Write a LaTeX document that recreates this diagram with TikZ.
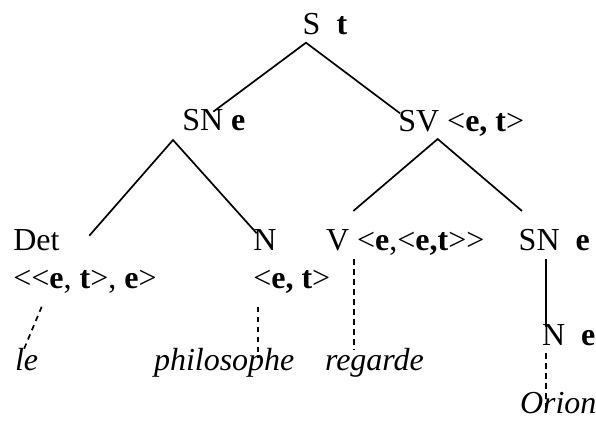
\documentclass[tikz,border=0pt]{standalone}
\usepackage{fontspec}
\setmainfont{Liberation Serif}
\begin{document}
\begin{tikzpicture}[x=1pt,y=-1pt,
  lbl/.style={anchor=base west,inner sep=0pt,outer sep=0pt,font=\fontsize{32}{38}\selectfont},
  edge/.style={line width=1.7pt},
  dedge/.style={line width=1.7pt,dash pattern=on 5.5pt off 4.5pt}]
\useasboundingbox (0,0) rectangle (596,420);
% labels
\node[lbl] (S) at (302.7,35) {S\ \ \textbf{t}};
\node[lbl] (SN) at (182.3,130.7) {SN \textbf{e}};
\node[lbl] (SV) at (398.3,131) {SV <\textbf{e, t}>};
\node[lbl] (Det) at (13.3,250) {Det};
\node[lbl] (Dett) at (13.3,288) {<{}<\textbf{e}, \textbf{t}>, \textbf{e}>};
\node[lbl] (N) at (253.3,250) {N};
\node[lbl] (Nt) at (253.3,288) {<\textbf{e, t}>};
\node[lbl] (V) at (326,250) {V <\textbf{e},<\textbf{e,t}>{}>};
\node[lbl] (SN2) at (518.7,250) {SN\ \ \textbf{e}};
\node[lbl] (N2) at (542,345.7) {N\ \ \textbf{e}};
\node[lbl] (le) at (15,370) {\itshape le};
\node[lbl] (phil) at (154,370) {\itshape philosophe};
\node[lbl] (reg) at (325,370) {\itshape regarde};
\node[lbl] (orion) at (520,413) {\itshape Orion};
% connector end points
\coordinate (Sa) at (306,42.7);
\coordinate (SNt) at (213.3,111.7);
\coordinate (SVt) at (400,113.3);
\coordinate (SNa) at (173,140);
\coordinate (Dett0) at (89.3,235.7);
\coordinate (Nt0) at (256.7,233.3);
\coordinate (SVa) at (437.7,139);
\coordinate (Vt0) at (353.3,211);
\coordinate (SN2t) at (522,211);
\coordinate (SN2b) at (546,259.3);
\coordinate (N2t) at (546,327);
\coordinate (Detb) at (41.7,306.7);
\coordinate (let) at (24,349);
\coordinate (Nb) at (258.3,306.7);
\coordinate (philt) at (258.3,358.3);
\coordinate (Vb) at (354,259.3);
\coordinate (regt) at (354,350);
\coordinate (N2b) at (546,353);
\coordinate (oriont) at (546,408);
% tree
\draw[edge] (SNt) -- (Sa) -- (SVt);
\draw[edge] (Dett0) -- (SNa) -- (Nt0);
\draw[edge] (Vt0) -- (SVa) -- (SN2t);
\draw[edge] (SN2b) -- (N2t);
\draw[dedge] (Detb) -- (let);
\draw[dedge] (Nb) -- (philt);
\draw[dedge] (Vb) -- (regt);
\draw[dedge] (N2b) -- (oriont);
\end{tikzpicture}
\end{document}
